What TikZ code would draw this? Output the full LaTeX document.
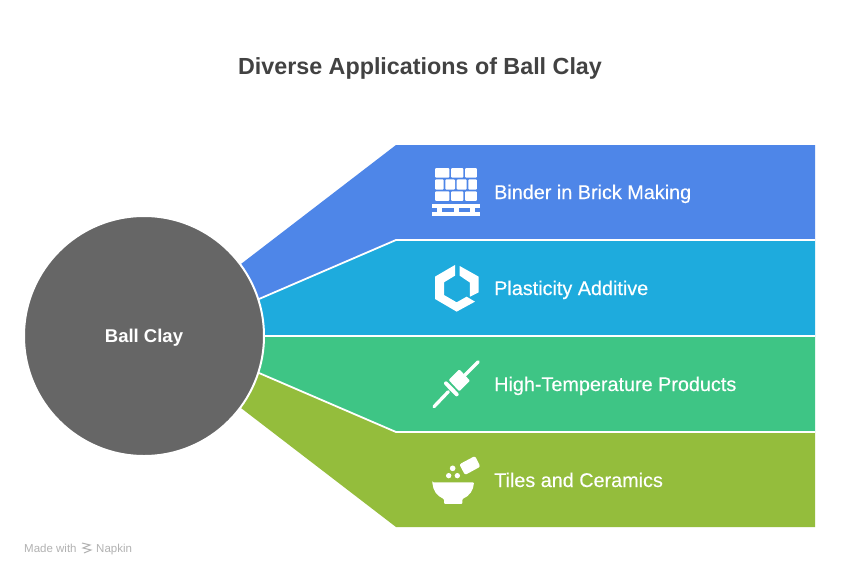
\documentclass[tikz,border=0pt]{standalone}
\usepackage{fontspec}
\setmainfont{Liberation Sans}
\newfontfamily\labelfont[FakeBold=0.3]{Liberation Sans}
\definecolor{brickblue}{HTML}{4E86E8}
\definecolor{plasticcyan}{HTML}{1EABDD}
\definecolor{tempgreen}{HTML}{3EC585}
\definecolor{tileolive}{HTML}{94BD3C}
\definecolor{clayGray}{HTML}{666666}
\definecolor{titleGray}{HTML}{424242}
\tikzset{
    bandlabel/.style={anchor=base west,inner sep=0pt,text=white,font=\labelfont\fontsize{19.8}{22}\selectfont},
    iconline/.style={draw=white,line cap=round,line width=3.3pt},
    zoomed/.style={x=0.3333pt,y=-0.3333pt},
    markline/.style={text=black!30,anchor=base west,inner sep=0pt,font=\fontsize{11.5}{13}\selectfont}
}
\begin{document}
\begin{tikzpicture}[x=1pt,y=-1pt]
    \useasboundingbox[fill=white] (0,0) rectangle (841,576);

    % title
    \node[text=titleGray,font=\bfseries\fontsize{23.3}{28}\selectfont] (title) at (420,68) {Diverse Applications of Ball Clay};

    % bands
    \fill[tileolive] (241,408) -- (259,373) -- (396,432) -- (815,432) -- (815,527) -- (396,527) -- cycle;
    \fill[tempgreen] (259,373) -- (262,336) -- (815,336) -- (815,432) -- (396,432) -- cycle;
    \fill[plasticcyan] (259,299) -- (396,240) -- (815,240) -- (815,336) -- (262,336) -- cycle;
    \fill[brickblue] (241,264) -- (396,145) -- (815,145) -- (815,240) -- (396,240) -- (259,299) -- cycle;

    \draw[white,line width=1.8pt] (259,299) -- (396,240) -- (815,240);
    \draw[white,line width=1.8pt] (262,336) -- (815,336);
    \draw[white,line width=1.8pt] (259,373) -- (396,432) -- (815,432);

    % circle
    \node[circle,fill=clayGray,draw=white,line width=2pt,minimum size=240pt,inner sep=0pt] (clay) at (144,336) {};
    \node[text=white,font=\bfseries\fontsize{18.5}{22}\selectfont] (claylabel) at (144,338) {Ball Clay};

    % labels
    \node[bandlabel] (binder) at (494,199) {Binder in Brick Making};
    \node[bandlabel] (plastic) at (494,295) {Plasticity Additive};
    \node[bandlabel] (hightemp) at (494,391) {High-Temperature Products};
    \node[bandlabel] (tiles) at (494,487) {Tiles and Ceramics};

    % I
    \begin{scope}[shift={(420,155)},zoomed]
        \foreach \xa/\xb in {45/71,76/105,110/140,145/171} \fill[white,rounded corners=1pt] (\xa,73) rectangle (\xb,104);
        \foreach \xa/\xb in {45/88,93/130,135/171} {
            \fill[white,rounded corners=1pt] (\xa,39) rectangle (\xb,68);
            \fill[white,rounded corners=1pt] (\xa,109) rectangle (\xb,138);
        }
        \fill[white] (37,147) rectangle (180,159);
        \fill[white] (37,171) rectangle (180,183);
        \foreach \xa in {52,102,150} \fill[white] (\xa,158) rectangle (\xa+14,172);
    \end{scope}

    % II
    \begin{scope}[shift={(420,155)},zoomed]
        \fill[white] (119,333) -- (176,365) -- (176,412) -- (150,425) -- (150,383) -- (119,362) -- cycle;
        \fill[white] (105,330) -- (105,362) -- (72,382) -- (72,420) -- (110,442) -- (140,425) -- (165,440) -- (110,470) -- (45,432) -- (45,365) -- cycle;
    \end{scope}

    % III
    \begin{scope}[shift={(420,350)},zoomed]
        \draw[iconline] (42,170) -- (85,125);
        \draw[iconline] (135,75) -- (175,35);
        \draw[iconline,line width=4pt] (78,100) -- (110,133);
        \fill[white,rounded corners=1pt] (86,90) -- (118,58) -- (150,92) -- (118,124) -- cycle;
    \end{scope}

    % IV
    \begin{scope}[shift={(420,350)},zoomed]
        \fill[white,rounded corners=1pt] (37,397) -- (162,397) .. controls (160,422) and (148,438) .. (127,447) -- (127,462) -- (72,462) -- (72,447) .. controls (51,438) and (39,422) .. (37,397) -- cycle;
        \fill[white] (98,355) circle[radius=8.5];
        \fill[white] (86,377) circle[radius=8];
        \fill[white] (112,377) circle[radius=8];
        \fill[white,rounded corners=2pt] (118,343) -- (165,318) -- (181,350) -- (135,375) -- cycle;
    \end{scope}

    % watermark
    \node[markline] (made) at (24,552) {Made with};
    \node[markline] (napkin) at (96,552) {Napkin};
    \draw[black!30,line width=1pt] (82,543) -- (90,545) -- (83,548) -- (91,550) -- (84,553);
\end{tikzpicture}
\end{document}
